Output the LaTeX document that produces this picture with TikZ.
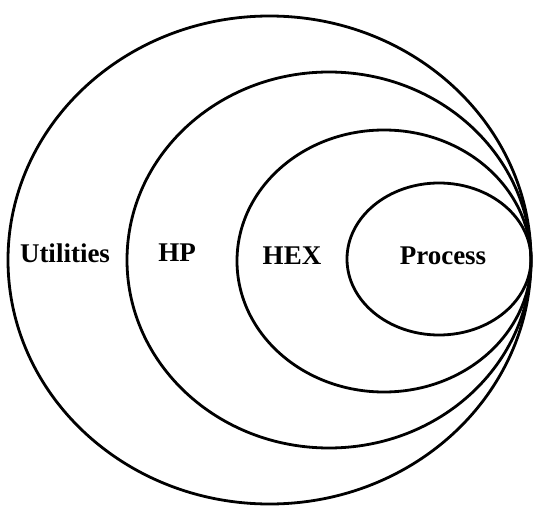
\documentclass[tikz,border=0pt]{standalone}
\usepackage{fontspec}
\setmainfont{Liberation Serif}
\usepackage{tikz}

\tikzset{
  ring/.style={line width=2.8pt, black},
  tag/.style={font=\fontsize{27}{32}\selectfont\bfseries, anchor=base}
}

\begin{document}
\begin{tikzpicture}[x=1pt, y=1pt]
        \useasboundingbox (0,0) rectangle (533,507);
        % nested rings, all touching at the right
        \draw[ring] (269.5,247) ellipse (261.5 and 244);
        \draw[ring] (329,247) ellipse (202 and 188);
        \draw[ring] (384,246) ellipse (147 and 131);
        \draw[ring] (439,248) ellipse (92 and 76);
        \node (util) at (65,245) [tag] {Utilities};
        \node (hp) at (177,246) [tag] {HP};
        \node (hex) at (292,243) [tag] {HEX};
        \node (proc) at (443,243) [tag] {Process};
        \end{tikzpicture}
\end{document}
